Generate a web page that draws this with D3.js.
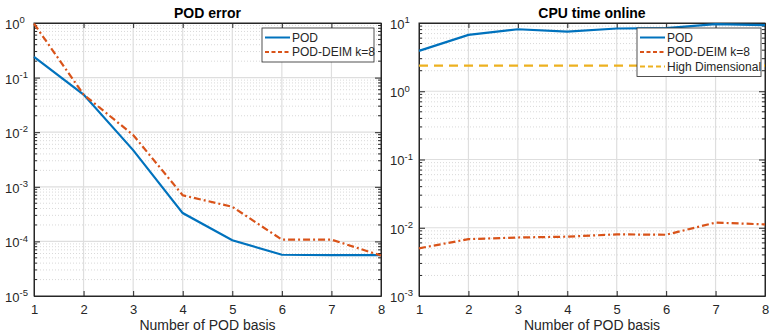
<!DOCTYPE html>
<html lang="en">
<head>
<meta charset="utf-8">
<title>POD error / CPU time</title>
<script src="https://cdn.jsdelivr.net/npm/d3@7"></script>
<style>
body { margin: 0; background: #fff; }
text { font-family: "Liberation Sans", Arial, sans-serif; fill: #262626; }
.title { font-weight: bold; font-size: 14px; fill: #000; }
.lbl { font-size: 14px; }
.tick text { font-size: 13px; }
</style>
</head>
<body>
<script>
var basis = [1, 2, 3, 4, 5, 6, 7, 8];

// POD error
var errPOD  = [0.24, 0.049, 0.0047, 3.3e-4, 1.05e-4, 5.7e-5, 5.6e-5, 5.6e-5];
var errDEIM = [0.97, 0.049, 0.0089, 7.0e-4, 4.3e-4, 1.08e-4, 1.08e-4, 5.5e-5];

// CPU time online
var cpuPOD  = [3.9, 6.7, 8.1, 7.5, 8.3, 8.4, 9.6, 9.3];
var cpuDEIM = [0.0050, 0.0068, 0.0072, 0.0074, 0.0080, 0.0079, 0.0119, 0.0112];
var cpuHigh = 2.37;

var blue = "#0072BD", orange = "#D95319", yellow = "#EDB120";
var W = 771, H = 334;
var svg = d3.select("body").append("svg").attr("width", W).attr("height", H);

function panel(opt) {
  var g = svg.append("g");
  var x = d3.scaleLinear().domain([1, 8]).range([opt.x0, opt.x1]);
  var y = d3.scaleLog().domain(opt.ydom).range([296, 23]);
  var lo = Math.log10(opt.ydom[0]), hi = Math.log10(opt.ydom[1]);

  // minor grid + minor ticks
  for (var e = lo; e < hi; e++) {
    for (var m = 2; m < 10; m++) {
      var v = m * Math.pow(10, e);
      g.append("line").attr("x1", opt.x0).attr("x2", opt.x1)
        .attr("y1", y(v)).attr("y2", y(v))
        .attr("stroke", "#cfcfcf").attr("stroke-width", 0.8)
        .attr("stroke-dasharray", "1,2");
      g.append("line").attr("x1", opt.x0).attr("x2", opt.x0 + 3)
        .attr("y1", y(v)).attr("y2", y(v)).attr("stroke", "#262626");
      g.append("line").attr("x1", opt.x1).attr("x2", opt.x1 - 3)
        .attr("y1", y(v)).attr("y2", y(v)).attr("stroke", "#262626");
    }
  }
  // major grid
  for (var e2 = lo + 1; e2 < hi; e2++) {
    g.append("line").attr("x1", opt.x0).attr("x2", opt.x1)
      .attr("y1", y(Math.pow(10, e2))).attr("y2", y(Math.pow(10, e2)))
      .attr("stroke", "#dedede").attr("stroke-width", 1.2);
  }
  basis.slice(1, -1).forEach(function (b) {
    g.append("line").attr("x1", x(b)).attr("x2", x(b))
      .attr("y1", 23).attr("y2", 296)
      .attr("stroke", "#dedede").attr("stroke-width", 1.2);
  });

  // axes
  var decades = d3.range(lo, hi + 1).map(function (e) { return Math.pow(10, e); });
  var yl = g.append("g").attr("transform", "translate(" + opt.x0 + ",0)")
    .call(d3.axisLeft(y).tickValues(decades).tickSizeInner(-6).tickSizeOuter(0).tickFormat(""));
  yl.selectAll(".tick").append("text")
    .attr("x", -12).attr("dy", "0.42em").attr("text-anchor", "end")
    .each(function (d) {
      var t = d3.select(this);
      t.append("tspan").text("10");
      t.append("tspan").attr("dy", "-0.6em").attr("font-size", "9.5px").text(Math.round(Math.log10(d)));
    });
  yl.selectAll(".tick text").attr("text-anchor", "start").attr("x", -29);
  g.append("g").attr("transform", "translate(" + opt.x1 + ",0)")
    .call(d3.axisRight(y).tickValues(decades).tickSizeInner(-6).tickSizeOuter(0).tickFormat(""));
  g.append("g").attr("transform", "translate(0,296)")
    .call(d3.axisBottom(x).tickValues(basis).tickSizeInner(-5).tickSizeOuter(0).tickPadding(9).tickFormat(d3.format("d")));
  g.append("g").attr("transform", "translate(0,23)")
    .call(d3.axisTop(x).tickValues(basis).tickSizeInner(-5).tickSizeOuter(0).tickFormat(""));
  g.selectAll(".domain, .tick line").attr("stroke", "#262626");
  g.append("rect").attr("x", opt.x0).attr("y", 23)
    .attr("width", opt.x1 - opt.x0).attr("height", 273)
    .attr("fill", "none").attr("stroke", "#262626").attr("stroke-width", 1);

  // lines
  var line = d3.line().x(function (d, i) { return x(basis[i]); }).y(function (d) { return y(d); });
  opt.series.forEach(function (s) {
    g.append("path").datum(s.values).attr("d", line)
      .attr("fill", "none").attr("stroke", s.color).attr("stroke-width", 2.2)
      .attr("stroke-dasharray", s.dash);
  });

  // titles
  g.append("text").attr("class", "title").attr("x", (opt.x0 + opt.x1) / 2).attr("y", 18)
    .attr("text-anchor", "middle").text(opt.title);
  g.append("text").attr("class", "lbl").attr("x", (opt.x0 + opt.x1) / 2).attr("y", 330)
    .attr("text-anchor", "middle").text("Number of POD basis");

  // legend
  var lg = g.append("g").attr("transform", "translate(" + opt.legX + ",28)");
  var lw = opt.legW, lh = 5 + opt.series.length * 14.5;
  lg.append("rect").attr("width", lw).attr("height", lh)
    .attr("fill", "#fff").attr("stroke", "#262626").attr("stroke-width", 0.8);
  opt.series.forEach(function (s, i) {
    var yy = 9.5 + i * 14.5;
    lg.append("line").attr("x1", 3).attr("x2", 28).attr("y1", yy).attr("y2", yy)
      .attr("stroke", s.color).attr("stroke-width", 2).attr("stroke-dasharray", s.ldash || s.dash);
    lg.append("text").attr("x", 30).attr("y", yy).attr("dy", "0.36em")
      .attr("font-size", "12px").text(s.name);
  });
}

panel({
  x0: 34, x1: 381, ydom: [1e-5, 1], title: "POD error", legX: 262, legW: 112,
  series: [
    { name: "POD", values: errPOD, color: blue, dash: null },
    { name: "POD-DEIM k=8", values: errDEIM, color: orange, dash: "7,3,2,3", ldash: "4,2.5" }
  ]
});

panel({
  x0: 419, x1: 765, ydom: [1e-3, 10], title: "CPU time online", legX: 637, legW: 124,
  series: [
    { name: "POD", values: cpuPOD, color: blue, dash: null },
    { name: "POD-DEIM k=8", values: cpuDEIM, color: orange, dash: "7,3,2,3", ldash: "4,2.5" },
    { name: "High Dimensional", values: basis.map(function () { return cpuHigh; }), color: yellow, dash: "9,6", ldash: "5,3" }
  ]
});
</script>
</body>
</html>
